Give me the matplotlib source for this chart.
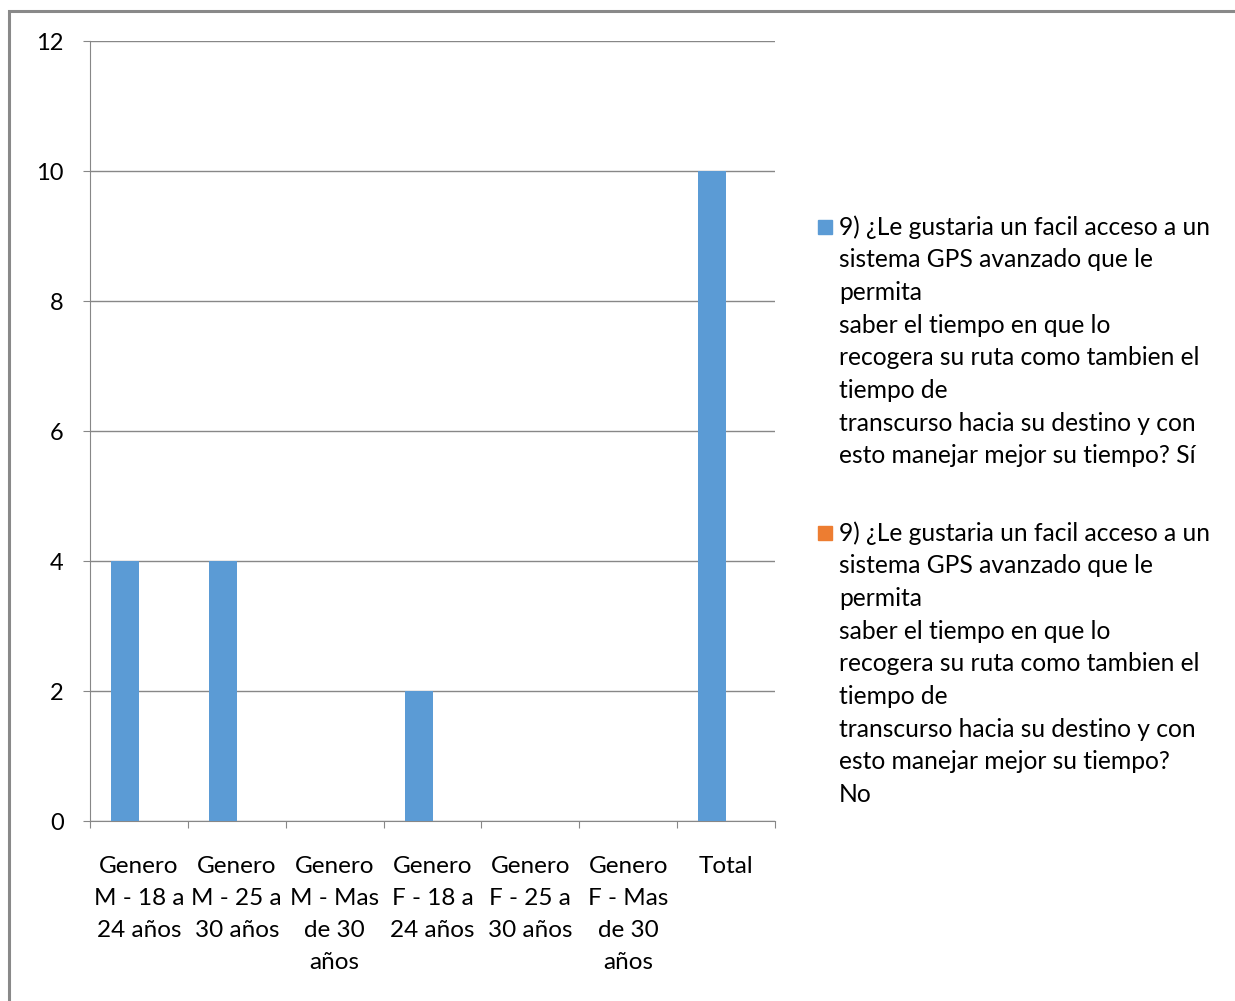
import matplotlib.pyplot as plt
from matplotlib.patches import Rectangle

# --- Data ---
categories = ['Genero\nM - 18 a\n24 años', 'Genero\nM - 25 a\n30 años', 'Genero\nM - Mas\nde 30\naños',
              'Genero\nF - 18 a\n24 años', 'Genero\nF - 25 a\n30 años', 'Genero\nF - Mas\nde 30\naños',
              'Total']
si_values = [4, 4, 0, 2, 0, 0, 10]
no_values = [0, 0, 0, 0, 0, 0, 0]
question = ('9) ¿Le gustaria un facil acceso a un\nsistema GPS avanzado que le\npermita\n'
            'saber el tiempo en que lo\nrecogera su ruta como tambien el\ntiempo de\n'
            'transcurso hacia su destino y con\nesto manejar mejor su tiempo?')
series_labels = [question + ' Sí', question + '\nNo']
colors = ['#5B9BD5', '#ED7D31']

plt.rcParams['font.family'] = ['Lato', 'DejaVu Sans']
W, H = 1235, 1001
fig = plt.figure(figsize=(W / 100, H / 100), dpi=100)
ax = fig.add_axes([90 / W, 1 - 821 / H, (775 - 90) / W, (821 - 41) / H])

x = list(range(len(categories)))
bw = 0.286
ax.bar([i - bw / 2 for i in x], si_values, width=bw, color=colors[0], zorder=3)
ax.bar([i + bw / 2 for i in x], no_values, width=bw, color=colors[1], zorder=3)

grid_c = '#878787'
ax.set_xlim(-0.5, len(categories) - 0.5)
ax.set_ylim(0, 12)
ax.set_yticks(range(0, 13, 2))
ax.yaxis.grid(True, color=grid_c, linewidth=1, zorder=0)
ax.tick_params(axis='y', direction='out', length=5, color=grid_c, pad=14, labelsize=17)

ax.set_xticks([i - 0.5 for i in range(len(categories) + 1)])
ax.set_xticklabels([])
ax.tick_params(axis='x', which='major', direction='out', length=5, color=grid_c)
ax.set_xticks(x, minor=True)
ax.set_xticklabels(categories, minor=True, fontsize=17.5, linespacing=1.64)
ax.tick_params(axis='x', which='minor', length=0, pad=25.5)

for s in ['top', 'right']:
    ax.spines[s].set_visible(False)
for s in ['left', 'bottom']:
    ax.spines[s].set_color(grid_c)

# Legend drawn by hand so the markers sit on the first line
legend_mid = [227, 533]
for lab, col, mid in zip(series_labels, colors, legend_mid):
    fig.text(839 / W, 1 - (mid - 12) / H, lab, fontsize=17.7, va='top', ha='left', linespacing=1.51)
    fig.patches.append(Rectangle((818 / W, 1 - (mid + 7) / H), 14 / W, 14 / H,
                                 transform=fig.transFigure, color=col))

# outer chart border
fig.patches.append(Rectangle((9 / W, -0.1), 1.2, 1.1 - 11 / H, transform=fig.transFigure,
                             fill=False, edgecolor='#898989', linewidth=2.2))

fig.savefig('out.png', dpi=100)
